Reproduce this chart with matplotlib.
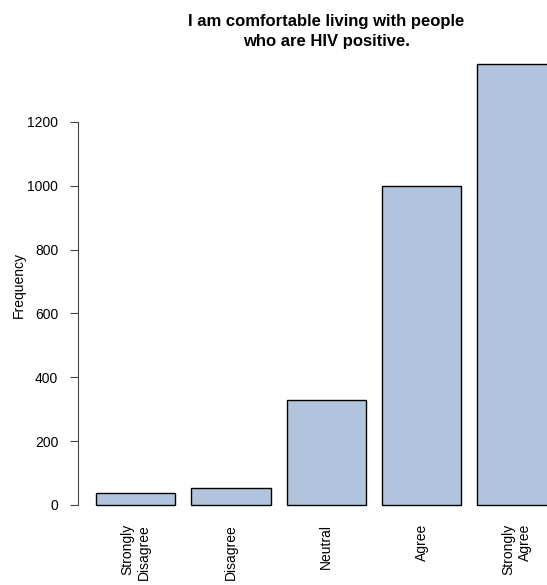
import matplotlib
matplotlib.use("Agg")
import matplotlib.pyplot as plt
import matplotlib.transforms as mtransforms

categories = ["Strongly\nDisagree", "Disagree", "Neutral", "Agree", "Strongly\nAgree"]
counts = [38, 52, 329, 1001, 1381]
yticks = [0, 200, 400, 600, 800, 1000, 1200]
title_lines = ["I am comfortable living with people", "who are HIV positive."]
ylabel = "Frequency"

plt.rcParams['font.family'] = ['Liberation Sans', 'DejaVu Sans']

W, H = 547, 585
fig = plt.figure(figsize=(W/100, H/100), dpi=100)
ax_l, ax_r, ax_t, ax_b = 77.6, 575.0, 46.6, 522.6
ax = fig.add_axes([ax_l/W, 1-ax_b/H, (ax_r-ax_l)/W, (ax_b-ax_t)/H])

width = 1.0
space = 0.2
lefts = [space + i*(width+space) for i in range(len(counts))]
centers = [l + width/2 for l in lefts]
ax.bar(centers, counts, width=width, color='#B0C4DE', edgecolor='black', linewidth=1.0)

xmin, xmax = lefts[0], lefts[-1] + width
dx = (xmax - xmin) * 0.04
ax.set_xlim(xmin - dx, xmax + dx)
ymax = max(counts)
dy = ymax * 0.04
ax.set_ylim(-dy, ymax + dy)

for s in ['top', 'right', 'bottom']:
    ax.spines[s].set_visible(False)
ax.spines['left'].set_bounds(yticks[0], yticks[-1])
ax.spines['left'].set_color('#444444')
ax.set_yticks(yticks)
ax.set_yticklabels([str(t) for t in yticks], fontsize=10)
ax.tick_params(axis='y', length=6, color='#444444', pad=8)
ax.set_xticks([])

trans = mtransforms.blended_transform_factory(ax.transData, ax.transAxes)
label_top = (ax_b - 524) / (ax_b - ax_t)
for c, lab in zip(centers, categories):
    ax.text(c, label_top, lab, transform=trans, rotation=90,
            ha='center', va='top', multialignment='right', fontsize=10,
            linespacing=1.2)

fig.text(12/W, 1 - ((ax_t + ax_b) / 2)/H, ylabel, rotation=90, ha='left',
         va='center', fontsize=10)

cx = ((ax_l + ax_r) / 2) / W
for yb, line in zip([26, 46], title_lines):
    fig.text(cx, 1 - yb/H, line, ha='center', va='baseline',
             fontsize=12, fontweight='bold')

fig.savefig("out.png", dpi=100)
